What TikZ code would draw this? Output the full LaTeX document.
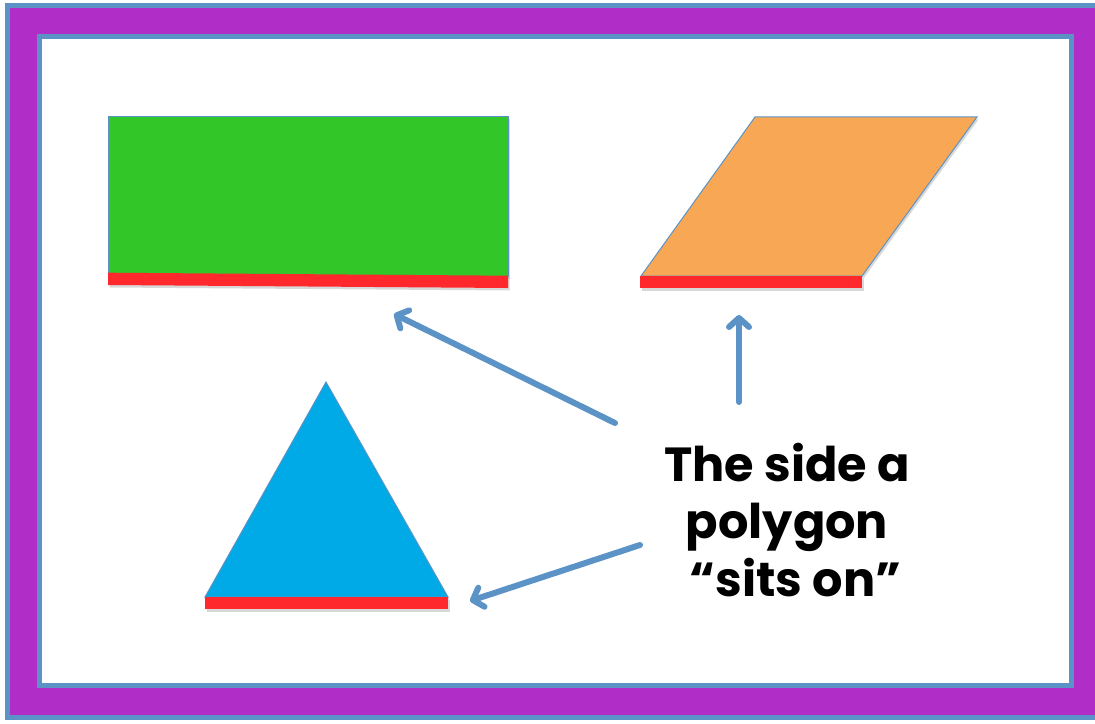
\documentclass[tikz,border=0pt]{standalone}
\usepackage{fontspec}
\setmainfont{Poppins}
\usetikzlibrary{arrows.meta,shadows}
\definecolor{framePurple}{RGB}{177,45,200}
\definecolor{frameBlue}{RGB}{91,147,199}
\definecolor{rectGreen}{RGB}{50,198,40}
\definecolor{paraOrange}{RGB}{248,168,84}
\definecolor{triCyan}{RGB}{0,170,230}
\definecolor{baseRed}{RGB}{255,40,45}

\begin{document}
\begin{tikzpicture}[x=1bp, y=-1bp,
  frame/.style={draw=frameBlue, line width=5bp},
  shade/.style={drop shadow={opacity=0.3, shadow xshift=1.5bp, shadow yshift=-2.5bp}},
  figure/.style={draw=frameBlue, line width=1bp, shade},
  side/.style={fill=baseRed, shade},
  pointer/.style={draw=frameBlue, line width=6bp, line cap=round,
    -{Straight Barb[length=9bp, width=20bp, round]}},
  caption/.style={align=center, font=\fontsize{48}{58}\selectfont\bfseries}
]
  \useasboundingbox (0,0) rectangle (1095,724);
  \clip (0,0) rectangle (1095,724);
  % frames
  \filldraw[frame, fill=framePurple, shade] (7.5,5.5) rectangle (1110,717);
  \filldraw[frame, fill=white, shade] (39.5,37) rectangle (1071.5,685.5);
  % rectangle
  \filldraw[figure, fill=rectGreen] (108,117) rectangle (508,276);
  \fill[side] (108,272.7) -- (508,275.7) -- (508,288) -- (108,285) -- cycle;
  % parallelogram
  \filldraw[figure, fill=paraOrange] (641,276) -- (755,117) -- (977,117) -- (862,276) -- cycle;
  \fill[side] (640,276) rectangle (862,288);
  % triangle
  \filldraw[figure, fill=triCyan] (205,597) -- (326,382) -- (448,597) -- cycle;
  \fill[side] (205,597) rectangle (448,609);
  % label and pointers
  \node[caption] (note) at (787,520) {The side a\\polygon\\\hspace*{0.35em}“sits on”};
  \coordinate (rectTail) at (615,423);
  \coordinate (rectTip) at (394,314);
  \coordinate (paraTail) at (739,402);
  \coordinate (paraTip) at (739,315);
  \coordinate (triTail) at (640,545);
  \coordinate (triTip) at (470,601);
  \draw[pointer] (rectTail) -- (rectTip);
  \draw[pointer] (paraTail) -- (paraTip);
  \draw[pointer] (triTail) -- (triTip);
\end{tikzpicture}
\end{document}
